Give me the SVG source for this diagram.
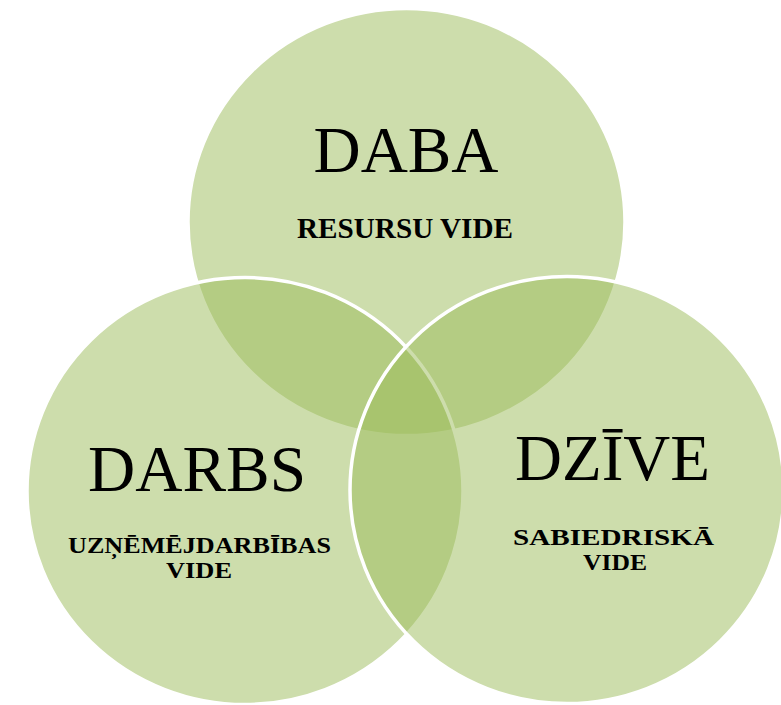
<svg xmlns="http://www.w3.org/2000/svg" width="781" height="705" viewBox="0 0 781 705">
<style>
.c{fill:#9BBB59;fill-opacity:0.5;stroke:#FFFFFF;stroke-width:3.5}
.t{font-family:"Liberation Serif","Times New Roman",serif;fill:#000;text-anchor:middle}
.big{font-size:66px}
.sub{font-weight:bold}
</style>
<rect width="781" height="705" fill="#FFFFFF"/>
<g id="daba">
<ellipse class="c" cx="406.5" cy="222" rx="218.5" ry="213.5"/>
</g>
<g id="darbs">
<ellipse class="c" cx="245" cy="491" rx="218" ry="213.5"/>
</g>
<g id="dzive">
<ellipse class="c" cx="567" cy="490" rx="217" ry="213.5"/>
</g>
<g id="labels-daba">
<text class="t big" x="406" y="172" textLength="185" lengthAdjust="spacingAndGlyphs">DABA</text>
<text class="t sub" x="405" y="238" font-size="29" textLength="216" lengthAdjust="spacingAndGlyphs">RESURSU VIDE</text>
</g>
<g id="labels-darbs">
<text class="t big" x="197" y="491" textLength="218" lengthAdjust="spacingAndGlyphs">DARBS</text>
<text class="t sub" x="199.5" y="553" font-size="23" textLength="263" lengthAdjust="spacingAndGlyphs">UZŅĒMĒJDARBĪBAS</text>
<text class="t sub" x="199" y="578" font-size="23" textLength="66" lengthAdjust="spacingAndGlyphs">VIDE</text>
</g>
<g id="labels-dzive">
<text class="t big" x="612.5" y="480" textLength="195" lengthAdjust="spacingAndGlyphs">DZĪVE</text>
<text class="t sub" x="613.5" y="545" font-size="23" textLength="201" lengthAdjust="spacingAndGlyphs">SABIEDRISKĀ</text>
<text class="t sub" x="615" y="570" font-size="23" textLength="64" lengthAdjust="spacingAndGlyphs">VIDE</text>
</g>
</svg>
